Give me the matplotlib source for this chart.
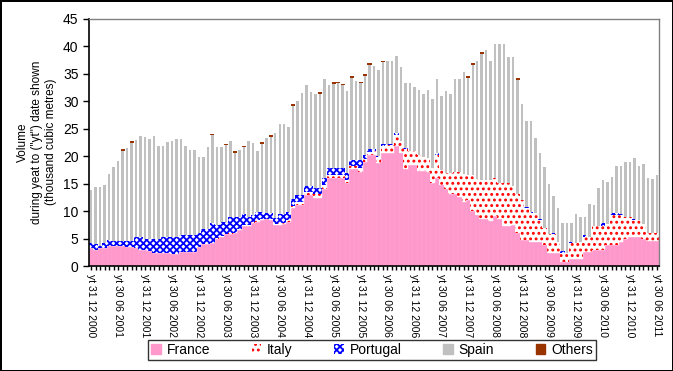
import matplotlib
matplotlib.use('Agg')
import matplotlib.pyplot as plt
from matplotlib.patches import Patch
import numpy as np

plt.rcParams['font.family'] = ['Liberation Sans', 'DejaVu Sans']
plt.rcParams['hatch.linewidth'] = 1.3

# monthly "year to date" volumes, Dec 2000 .. Jun 2011 (thousand m3)
france = [3.3, 3.0, 3.2, 3.2, 3.6, 3.6, 3.6, 3.6, 3.4, 3.4,
          3.2, 3.0, 3.0, 2.7, 2.4, 2.4, 2.4, 2.4, 2.2, 2.2,
          2.5, 2.5, 2.5, 2.5, 3.5, 4.0, 4.0, 4.1, 5.0, 5.2,
          5.8, 5.9, 6.0, 6.6, 7.2, 7.3, 7.8, 8.1, 8.4, 8.5,
          8.4, 7.4, 7.5, 7.6, 8.0, 10.5, 11.1, 11.1, 12.9, 12.9,
          12.4, 12.3, 14.1, 16.0, 16.0, 16.0, 16.0, 15.1, 17.7, 17.7,
          17.2, 19.0, 20.2, 20.2, 18.7, 20.5, 20.5, 20.5, 21.9, 20.5,
          17.7, 18.4, 18.4, 17.3, 17.3, 17.2, 15.1, 16.1, 14.8, 14.1,
          13.2, 13.2, 12.6, 11.7, 12.0, 10.0, 9.3, 8.6, 8.6, 8.2,
          9.1, 8.6, 7.3, 7.3, 7.5, 6.1, 4.7, 4.7, 4.4, 4.4,
          4.4, 3.9, 2.3, 2.3, 2.3, 0.8, 0.8, 1.3, 1.3, 1.3,
          2.5, 2.5, 2.9, 2.9, 2.9, 3.8, 3.8, 3.8, 4.4, 4.9,
          5.3, 5.3, 5.3, 4.9, 4.6, 4.6, 4.6]

italy = [0, 0, 0, 0, 0, 0, 0, 0, 0, 0,
         0, 0, 0, 0, 0, 0, 0, 0, 0, 0,
         0, 0, 0, 0, 0, 0, 0, 0, 0.1, 0.2,
         0.1, 0.2, 0.1, 0.2, 0.2, 0.1, 0.2, 0.2, 0.2, 0.1,
         0.2, 0.3, 0.3, 0.3, 0.3, 0.4, 0.6, 0.6, 0.5, 0.5,
         0.8, 0.9, 0.6, 0.5, 0.6, 0.5, 0.6, 0.6, 0.5, 0.6,
         0.7, 0.5, 0.6, 0.8, 1.2, 1.3, 1.5, 1.5, 1.9, 2.3,
         3.6, 2.6, 2.6, 2.9, 2.5, 2.4, 2.7, 4.1, 2.7, 2.8,
         3.8, 4.0, 4.6, 5.0, 4.6, 6.6, 6.5, 7.1, 7.1, 7.5,
         6.9, 6.5, 7.8, 7.8, 7.0, 7.1, 7.3, 5.8, 5.2, 5.2,
         4.0, 3.0, 3.5, 3.5, 2.1, 1.6, 1.6, 2.8, 2.8, 3.1,
         2.8, 2.8, 4.3, 4.3, 4.3, 3.8, 5.5, 5.5, 4.9, 4.1,
         3.7, 3.1, 3.1, 2.7, 1.5, 1.5, 1.5]

portugal = [0.8, 1.0, 0.4, 0.9, 1.1, 0.9, 0.9, 0.9, 1.1, 1.1,
            2.0, 2.3, 2.0, 2.3, 2.6, 2.6, 2.8, 2.8, 3.0, 3.0,
            3.1, 3.1, 3.1, 3.1, 2.5, 2.7, 2.7, 3.7, 2.4, 2.7,
            2.2, 2.8, 2.8, 2.1, 2.0, 1.5, 1.3, 1.5, 1.2, 1.1,
            1.0, 1.0, 1.7, 1.6, 1.5, 1.3, 1.2, 1.2, 1.2, 1.2,
            1.1, 1.1, 1.3, 1.3, 1.2, 1.3, 1.2, 1.2, 1.1, 1.0,
            1.4, 0.7, 0.6, 0.4, 0.1, 0.5, 0.3, 0.3, 0.4, 0.0,
            0.2, 0.0, 0.0, 0.1, 0.1, 0.0, 0.0, 0.4, 0.0, 0.0,
            0.0, 0.0, 0.0, 0.0, 0.0, 0.0, 0.0, 0.0, 0.0, 0.0,
            0.0, 0.0, 0.0, 0.0, 0.0, 0.0, 0.0, 0.2, 0.2, 0.1,
            0.1, 0.0, 0.0, 0.2, 0.0, 0.3, 0.0, 0.2, 0.0, 0.0,
            0.4, 0.0, 0.0, 0.0, 0.6, 0.0, 0.3, 0.3, 0.2, 0.0,
            0.0, 0.2, 0.0, 0.0, 0.0, 0.0, 0.0]

spain = [9.8, 10.4, 10.8, 10.7, 12.0, 13.5, 14.7, 16.5, 17.0, 17.9,
         17.8, 18.4, 18.5, 18.2, 18.7, 16.9, 16.7, 17.4, 17.5, 18.0,
         17.6, 16.3, 15.5, 15.6, 13.9, 13.2, 14.9, 16.0, 14.1, 13.6,
         13.9, 13.8, 11.7, 12.2, 12.2, 13.8, 13.1, 11.2, 12.4, 13.6,
         13.9, 15.5, 16.4, 16.4, 15.5, 17.0, 17.2, 18.6, 18.4, 17.1,
         17.0, 17.1, 18.1, 15.2, 15.4, 15.5, 15.1, 15.0, 15.0, 14.4,
         14.0, 14.5, 15.3, 15.0, 15.7, 14.8, 15.0, 15.0, 14.1, 13.4,
         11.8, 12.3, 11.7, 11.8, 11.4, 12.4, 12.7, 13.5, 13.5, 15.0,
         14.4, 16.9, 16.9, 18.6, 17.7, 20.0, 21.5, 23.0, 23.6, 21.6,
         24.5, 25.4, 25.3, 23.0, 23.5, 20.7, 17.5, 15.7, 16.6, 13.6,
         12.1, 11.1, 9.2, 6.8, 6.2, 5.1, 5.4, 3.5, 5.3, 4.5,
         3.2, 6.0, 3.9, 7.0, 7.9, 7.7, 6.7, 8.7, 8.8, 9.9,
         10.0, 11.1, 9.9, 11.0, 10.0, 9.8, 10.5]

others = [0, 0, 0, 0, 0, 0, 0, 0.3, 0, 0.3,
          0, 0, 0, 0, 0, 0, 0, 0, 0, 0,
          0, 0, 0, 0, 0, 0, 0, 0.3, 0, 0,
          0.3, 0, 0.3, 0, 0.3, 0, 0, 0, 0.3, 0,
          0.3, 0, 0, 0, 0, 0.3, 0, 0, 0, 0,
          0, 0.3, 0, 0, 0.3, 0.3, 0.3, 0, 0.3, 0,
          0.3, 0.3, 0.3, 0, 0, 0.3, 0, 0, 0, 0,
          0, 0, 0, 0, 0, 0, 0, 0, 0, 0,
          0, 0, 0, 0, 0.3, 0.3, 0, 0.3, 0, 0,
          0, 0, 0, 0, 0, 0.3, 0, 0, 0, 0,
          0, 0, 0, 0, 0, 0, 0, 0, 0, 0,
          0, 0, 0, 0, 0, 0, 0, 0, 0, 0,
          0, 0, 0, 0, 0, 0, 0]

tick_labels = ['yt 31 12 2000', 'yt 30 06 2001', 'yt 31 12 2001', 'yt 30 06 2002',
               'yt 31 12 2002', 'yt 30 06 2003', 'yt 31 12 2003', 'yt 30 06 2004',
               'yt 31 12 2004', 'yt 30 06 2005', 'yt 31 12 2005', 'yt 30 06 2006',
               'yt 31 12 2006', 'yt 30 06 2007', 'yt 31 12 2007', 'yt 30 06 2008',
               'yt 31 12 2008', 'yt 30 06 2009', 'yt 31 12 2009', 'yt 30 06 2010',
               'yt 31 12 2010', 'yt 30 06 2011']

PINK = '#FF99CC'
RED = '#FF0000'
BLUE = '#0000FF'
GREY = '#C0C0C0'
BROWN = '#993300'
IT_HATCH = '...'
PT_HATCH = 'xxxxx'

x = np.arange(len(france))
b_fr = np.zeros(len(x))
b_it = b_fr + np.array(france)
b_pt = b_it + np.array(italy)
b_sp = b_pt + np.array(portugal)
b_ot = b_sp + np.array(spain)

fig = plt.figure(figsize=(6.73, 3.71), dpi=100)
fig.patch.set_edgecolor('black')
fig.patch.set_linewidth(2)
ax = fig.add_axes([89 / 673, 1 - 266 / 371, 570 / 673, 247 / 371])

ax.bar(x, france, width=1.0, bottom=b_fr, color=PINK, edgecolor=PINK, linewidth=0.4)
ax.bar(x, italy, width=1.0, bottom=b_it, facecolor='white', edgecolor=RED, hatch=IT_HATCH, linewidth=0)
ax.bar(x, portugal, width=1.0, bottom=b_pt, facecolor='white', edgecolor=BLUE, hatch=PT_HATCH, linewidth=0)
ax.bar(x, spain, width=0.55, bottom=b_sp, color=GREY, linewidth=0)
ax.bar(x, others, width=0.9, bottom=b_ot, color=BROWN, linewidth=0)

ax.set_xlim(-0.5, len(x) - 0.5)
ax.set_ylim(0, 45)
ax.set_yticks(np.arange(0, 46, 5))
ax.tick_params(axis='y', labelsize=10, length=4, width=1, color='black')
ax.set_xticks(x[::6])
ax.set_xticklabels(tick_labels, rotation=270, fontsize=7.5, ha='center', va='top')
ax.set_xticks(x, minor=True)
ax.tick_params(axis='x', which='both', length=3, width=1, color='black', pad=3)

for side in ['top', 'right']:
    ax.spines[side].set_color('#808080')
    ax.spines[side].set_linewidth(1)
for side in ['left', 'bottom']:
    ax.spines[side].set_color('black')
    ax.spines[side].set_linewidth(1.2)

fig.text(37 / 673, 1 - 142 / 371, 'Volume\nduring yeat to ("yt") date shown\n(thousand cubic metres)',
         rotation=90, ha='center', va='center', multialignment='center', fontsize=8.5)

handles = [Patch(facecolor=PINK, edgecolor=PINK),
           Patch(facecolor='white', edgecolor=RED, hatch=IT_HATCH, linewidth=0),
           Patch(facecolor='white', edgecolor=BLUE, hatch=PT_HATCH, linewidth=0),
           Patch(facecolor=GREY, edgecolor=GREY),
           Patch(facecolor=BROWN, edgecolor=BROWN)]
leg = fig.legend(handles, ['France', 'Italy', 'Portugal', 'Spain', 'Others'],
                 loc='center', bbox_to_anchor=(372 / 673, 1 - 350 / 371), ncol=5,
                 fontsize=10, frameon=True, fancybox=False, edgecolor='black',
                 handlelength=0.7, handleheight=0.7, handletextpad=0.4,
                 columnspacing=3.0, borderpad=0.25)
leg.get_frame().set_linewidth(1)

fig.savefig('out.png', dpi=100)
